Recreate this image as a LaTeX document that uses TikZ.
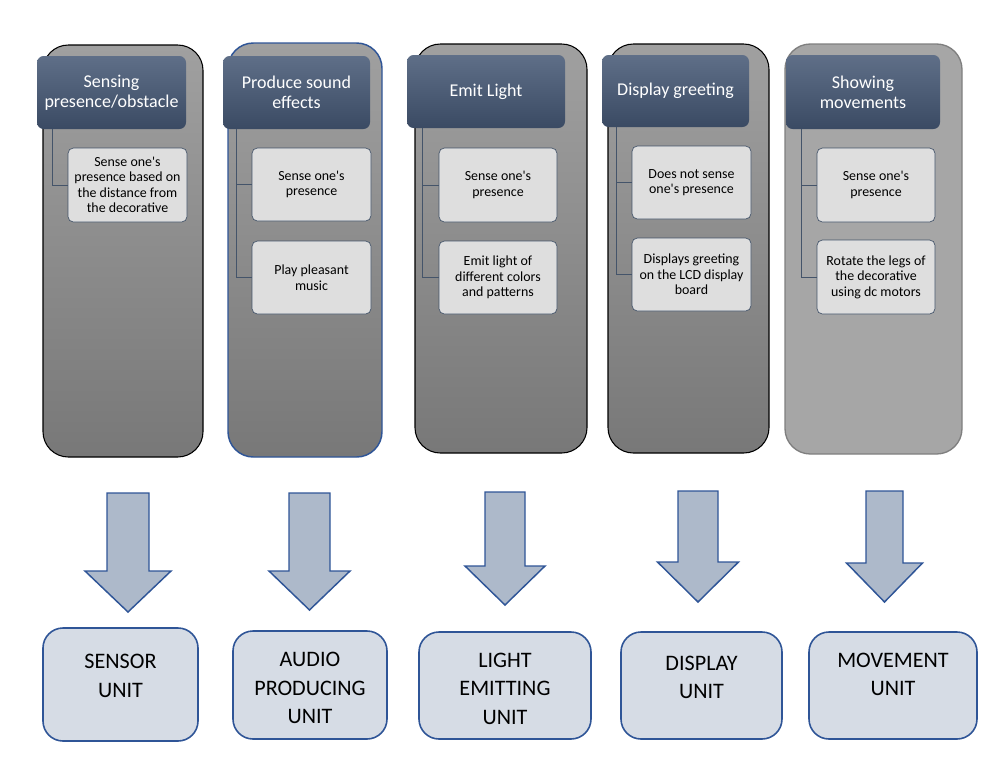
\documentclass[tikz,border=0pt]{standalone}
\usepackage{fontspec}
\setmainfont{Carlito}[Ligatures=TeXOff]
\definecolor{hdtop}{HTML}{5F6F88}
\definecolor{hdbot}{HTML}{3A4A63}
\definecolor{coltop}{HTML}{A0A0A0}
\definecolor{colbot}{HTML}{787878}
\definecolor{colflatfill}{HTML}{A6A6A6}
\definecolor{colflatline}{HTML}{7F7F7F}
\definecolor{childfill}{HTML}{DEDEDE}
\definecolor{childline}{HTML}{44546A}
\definecolor{arrfill}{HTML}{ADB9CA}
\definecolor{blueline}{HTML}{2F5597}
\definecolor{unitfill}{HTML}{D6DCE5}
\newcommand\mybox[7]{\node[#2, minimum width={(#5-#3)*0.75pt}, minimum height={(#6-#4)*0.75pt}] (#1) at ({(#3+#5)/2},{(#4+#6)/2}) {#7};}
\newcommand\myarrow[6]{\draw[barrowstyle] (#1-#5,#2) -- (#1+#5,#2) -- (#1+#5,#3) -- (#1+#6,#3) -- (#1,#4) -- (#1-#6,#3) -- (#1-#5,#3) -- cycle;}
\tikzset{
 col/.style={draw=black, line width=0.8pt, rounded corners=19pt, top color=coltop, bottom color=colbot, inner sep=0pt},
 colblue/.style={col, draw=blueline, line width=1.1pt},
 colflat/.style={draw=colflatline, line width=1pt, rounded corners=19pt, fill=colflatfill, inner sep=0pt},
 head/.style={rounded corners=5pt, top color=hdtop, bottom color=hdbot, text=white, align=center, font=\fontsize{13.5}{15}\selectfont, inner sep=0pt},
 child/.style={draw=childline, line width=0.5pt, rounded corners=4pt, fill=childfill, align=center, font=\fontsize{10.45}{11.6}\selectfont, inner sep=0pt},
 link/.style={draw=childline, line width=0.7pt},
 unit/.style={draw=blueline, line width=1.2pt, rounded corners=15pt, fill=unitfill, align=center, font=\fontsize{16.6}{21.4}\selectfont, inner sep=0pt},
 barrowstyle/.style={draw=blueline, line width=1.1pt, fill=arrfill, line join=miter},
}
\begin{document}
\begin{tikzpicture}[x=0.75pt, y=-0.75pt]
\useasboundingbox (0,0) rectangle (1008,765);
% columns
\mybox{c1}{col}{43}{45}{203}{457}{}
\mybox{c2}{colblue}{228}{43}{382}{457}{}
\mybox{c3}{col}{415}{44}{587}{453}{}
\mybox{c4}{col}{608}{44}{769}{453}{}
\mybox{c5}{colflat}{785}{44}{962}{454}{}
% headers
\mybox{h1}{head}{37}{56}{186}{129}{Sensing\\presence/obstacle}
\mybox{h2}{head}{223}{56}{370}{129}{Produce sound\\effects}
\mybox{h3}{head}{407}{55}{565}{128}{Emit Light}
\mybox{h4}{head}{602}{55}{749}{127}{Display greeting}
\mybox{h5}{head}{786}{55}{940}{129}{Showing\\movements}
% children
\mybox{a1}{child}{68}{148}{187}{222}{Sense one's\\presence based on\\the distance from\\the decorative}
\mybox{a2}{child}{252}{148}{371}{221}{Sense one's\\presence}
\mybox{b2}{child}{252}{241}{371}{314}{Play pleasant\\music}
\mybox{a3}{child}{439}{148}{557}{222}{Sense one's\\presence}
\mybox{b3}{child}{439}{241}{557}{314}{Emit light of\\different colors\\and patterns}
\mybox{a4}{child}{632}{146}{751}{219}{Does not sense\\one's presence}
\mybox{b4}{child}{632}{238}{751}{311}{Displays greeting\\on the LCD display\\board}
\mybox{a5}{child}{817}{148}{935}{222}{Sense one's\\presence}
\mybox{b5}{child}{817}{240}{935}{314}{Rotate the legs of\\the decorative\\using dc motors}
% connectors
\draw[link] (h1.south west) ++(16,0) |- (a1.west);
\draw[link] (h2.south west) ++(14,0) |- (a2.west);
\draw[link] (h2.south west) ++(14,0) |- (b2.west);
\draw[link] (h3.south west) ++(16,0) |- (a3.west);
\draw[link] (h3.south west) ++(16,0) |- (b3.west);
\draw[link] (h4.south west) ++(15,0) |- (a4.west);
\draw[link] (h4.south west) ++(15,0) |- (b4.west);
\draw[link] (h5.south west) ++(16,0) |- (a5.west);
\draw[link] (h5.south west) ++(16,0) |- (b5.west);
% block arrows
\myarrow{128}{493}{571}{612}{21}{43}
\myarrow{309.5}{493}{571}{610}{20.5}{40.5}
\myarrow{505}{492}{566}{605}{20}{40}
\myarrow{698}{491}{562}{602}{20}{40.5}
\myarrow{884.5}{491}{563}{602}{18.5}{38}
% units
\mybox{u1}{unit, text depth=12.75pt}{43}{628}{198}{741}{SENSOR\\UNIT}
\mybox{u2}{unit, text height=58.5pt}{233}{631}{387}{739}{AUDIO\\PRODUCING\\UNIT}
\mybox{u3}{unit, text height=58.5pt}{419}{632}{591}{739}{LIGHT\\EMITTING\\UNIT}
\mybox{u4}{unit, text depth=12pt}{621}{632}{782}{739}{DISPLAY\\UNIT}
\mybox{u5}{unit, text depth=16.5pt}{809}{632}{977}{739}{MOVEMENT\\UNIT}
\end{tikzpicture}
\end{document}
